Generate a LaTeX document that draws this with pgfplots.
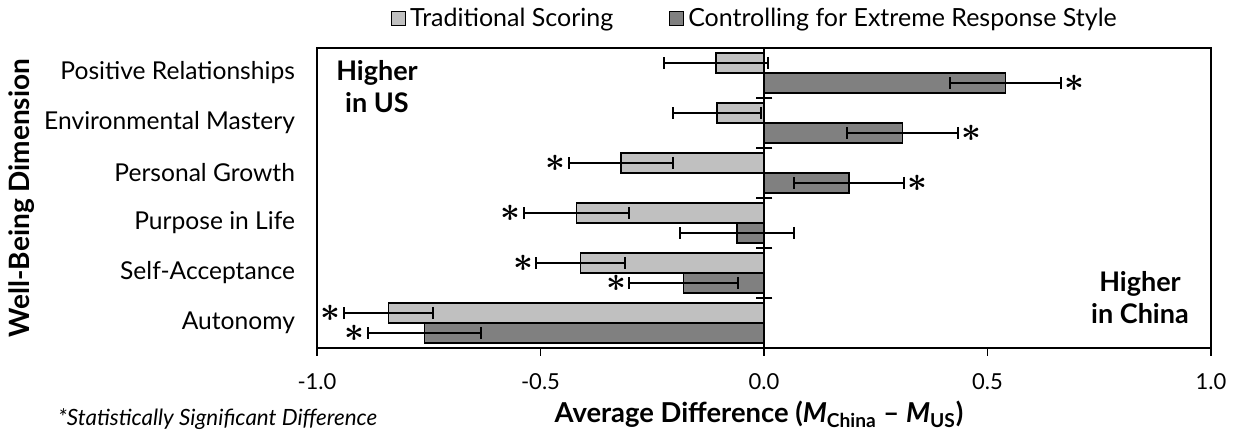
\documentclass[border=0pt]{standalone}
\usepackage{pgfplots}
\pgfplotsset{compat=1.18}
\usepackage{pgfplotstable}
\usepackage{fontspec}
\setmainfont{Lato}
\usetikzlibrary{calc}
\definecolor{tradc}{HTML}{C0C0C0}
\definecolor{ctrlc}{HTML}{808080}
\protected\def\sigstar{{\LARGE\boldmath$\ast$}}

% y = category position (Autonomy=0 ... Positive Relationships=5), +0.2 upper bar
\pgfplotstableread{
y x err
5.2 -0.107 0.116
4.2 -0.105 0.098
3.2 -0.320 0.117
2.2 -0.420 0.118
1.2 -0.410 0.099
0.2 -0.840 0.099
}\trad

% -0.2 lower bar
\pgfplotstableread{
y x err
4.8 0.540 0.125
3.8 0.310 0.124
2.8 0.190 0.123
1.8 -0.060 0.127
0.8 -0.180 0.121
-0.2 -0.760 0.127
}\ctrl

\pgfplotstableread{
x y
-0.437 3.2
-0.538 2.2
-0.509 1.2
-0.301 0.8
-0.939 0.2
-0.887 -0.2
}\starneg

\pgfplotstableread{
x y
0.665 4.8
0.434 3.8
0.313 2.8
}\starpos

\begin{document}
\begin{tikzpicture}
\begin{axis}[
  scale only axis,
  width=447pt, height=150pt,
  xmin=-1, xmax=1, ymin=-0.5, ymax=5.5,
  xtick={-1,-0.5,0,0.5,1},
  xticklabels={-1.0,-0.5,0.0,0.5,1.0},
  ytick={0,1,2,3,4,5},
  yticklabels={Autonomy,Self-Acceptance,Purpose in Life,Personal Growth,Environmental Mastery,Positive Relationships},
  /pgf/number format/assume math mode=true,
  xticklabel style={font=\fontsize{11}{13}\selectfont, yshift=-5pt},
  yticklabel style={font=\fontsize{12.3}{14}\selectfont, xshift=-7.5pt},
  ytick style={draw=none},
  xtick align=outside,
  x tick style={black, line width=0.6pt},
  major tick length=4pt,
  tick pos=left,
  axis line style={line width=0.6pt},
  xlabel={\textbf{Average Difference (\textit{M}\textsubscript{China} -- \textit{M}\textsubscript{US})}},
  xlabel style={font=\fontsize{13.7}{15}\selectfont, at={(axis description cs:0.5,0)}, anchor=base, yshift=-37.5pt, xshift=-2.5pt},
  ylabel={\textbf{Well-Being Dimension}},
  ylabel style={font=\fontsize{14}{15}\selectfont, at={(axis description cs:-0.33,0.5)}, anchor=center},
  legend style={draw=none, at={(axis description cs:0.5,1.097)}, anchor=center, xshift=-4pt,
    font=\fontsize{12.5}{14}\selectfont, legend columns=2,
    /tikz/every even column/.append style={column sep=26pt}},
  legend image code/.code={\draw[#1, line width=0.5pt] (0pt,-3.5pt) rectangle (7pt,3.5pt);},
  clip=false,
]
\addplot[xbar, bar width=10pt, bar shift=0pt, fill=tradc, draw=black, line width=0.75pt,
  error bars/.cd, x dir=both, x explicit,
  error bar style={line width=1pt, black},
  error mark options={rotate=90, line width=1pt, mark size=3pt, black}]
  table[x=x, y=y, x error=err] {\trad};
\addlegendentry{Traditional Scoring}
\addplot[xbar, bar width=10pt, bar shift=0pt, fill=ctrlc, draw=black, line width=0.75pt,
  error bars/.cd, x dir=both, x explicit,
  error bar style={line width=1pt, black},
  error mark options={rotate=90, line width=1pt, mark size=3pt, black}]
  table[x=x, y=y, x error=err] {\ctrl};
\addlegendentry{Controlling for Extreme Response Style}

\addplot[forget plot, only marks, mark=*, mark options={opacity=0},
  nodes near coords={\sigstar}, nodes near coords style={anchor=east, inner sep=1.5pt, text=black, opacity=1}]
  table[x=x, y=y] {\starneg};
\addplot[forget plot, only marks, mark=*, mark options={opacity=0},
  nodes near coords={\sigstar}, nodes near coords style={anchor=west, inner sep=1.5pt, text=black, opacity=1}]
  table[x=x, y=y] {\starpos};

\addplot[forget plot, only marks, mark=-, mark size=4.2pt, mark options={line width=0.6pt, black}]
  coordinates {(0,0.5) (0,1.5) (0,2.5) (0,3.5) (0,4.5)};
\draw[line width=0.6pt] (axis cs:0,-0.5) -- (axis cs:0,5.5);

\node[font=\bfseries\fontsize{13.5}{16}\selectfont, align=center, anchor=center]
  at ($(rel axis cs:0,1)+(30pt,-19.5pt)$) {Higher\\in US};
\node[font=\bfseries\fontsize{13.5}{16}\selectfont, align=center, anchor=center]
  at ($(rel axis cs:1,0)+(-35.5pt,25pt)$) {Higher\\in China};
\node[font=\itshape\fontsize{11.2}{13}\selectfont, anchor=base west]
  at ($(rel axis cs:0,0)+(-133pt,-39pt)$) {*Statistically Significant Difference};
\end{axis}
\pgfresetboundingbox
\path ($(current axis.south west)+(-158.5pt,-44.5pt)$) rectangle ($(current axis.north east)+(13.5pt,24pt)$);
\end{tikzpicture}
\end{document}
